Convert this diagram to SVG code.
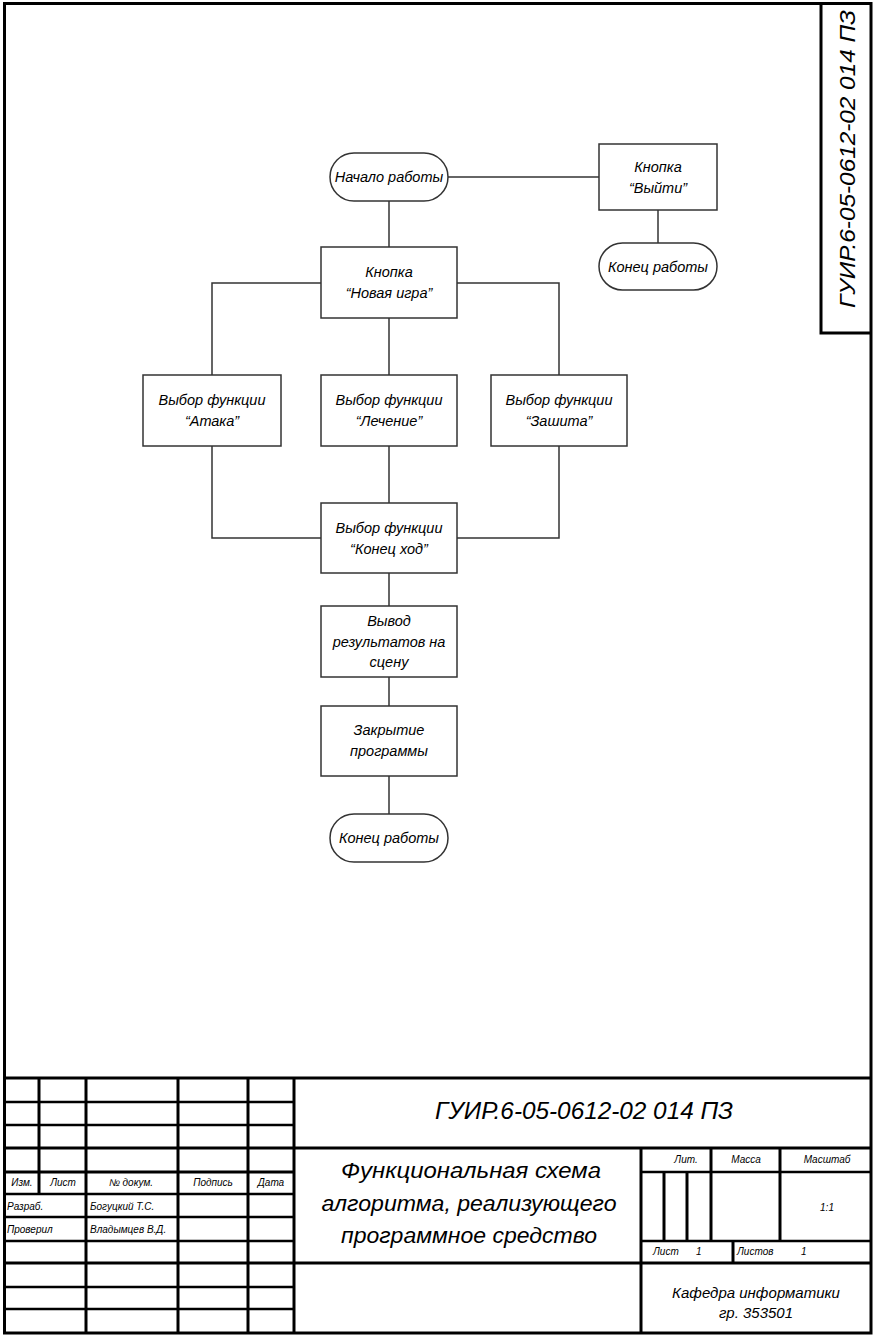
<svg xmlns="http://www.w3.org/2000/svg" width="875" height="1336" viewBox="0 0 875 1336">
  <style>
    text { font-family: "Liberation Sans", "DejaVu Sans", sans-serif; font-style: italic; fill: #000; }
    .node { fill: #fff; stroke: #333; stroke-width: 1.5; }
    .t { font-size: 14.5px; text-anchor: middle; }
    .edge { fill: none; stroke: #333; stroke-width: 1.5; }
    .frame { fill: none; stroke: #000; stroke-width: 3; }
    .grid { fill: none; stroke: #000; stroke-width: 2.5; }
    .s { font-size: 10px; }
    .c { text-anchor: middle; }
  </style>
  <rect x="0" y="0" width="875" height="1336" fill="#fff"/>

  <!-- sheet frame -->
  <g id="frame">
    <rect class="frame" x="4.5" y="3.5" width="866.5" height="1329.5"/>
    <polyline class="frame" points="821,3.5 821,333 871,333"/>
    <text transform="translate(855,159) rotate(-90)" font-size="22" text-anchor="middle" textLength="298" lengthAdjust="spacingAndGlyphs">ГУИР.6-05-0612-02 014 ПЗ</text>
  </g>

  <!-- connectors -->
  <g id="connectors">
    <line class="edge" x1="448" y1="177" x2="599" y2="177"/>
    <line class="edge" x1="658" y1="210" x2="658" y2="243"/>
    <line class="edge" x1="389" y1="201" x2="389" y2="247"/>
    <polyline class="edge" points="321,283 212,283 212,375"/>
    <polyline class="edge" points="457,283 559,283 559,375"/>
    <line class="edge" x1="389" y1="318" x2="389" y2="375"/>
    <polyline class="edge" points="212,446 212,538 321,538"/>
    <polyline class="edge" points="559,446 559,538 457,538"/>
    <line class="edge" x1="389" y1="446" x2="389" y2="503"/>
    <line class="edge" x1="389" y1="573" x2="389" y2="606"/>
    <line class="edge" x1="389" y1="677" x2="389" y2="706"/>
    <line class="edge" x1="389" y1="776" x2="389" y2="814"/>
  </g>

  <g id="start">
    <rect class="node" x="330" y="153" width="118" height="48" rx="24"/>
    <text class="t" x="389" y="182">Начало работы</text>
  </g>
  <g id="btn-exit">
    <rect class="node" x="599" y="144" width="118" height="66"/>
    <text class="t" x="658" y="172">Кнопка</text>
    <text class="t" x="658" y="193">“Выйти”</text>
  </g>
  <g id="end-exit">
    <rect class="node" x="599" y="243" width="118" height="47" rx="23.5"/>
    <text class="t" x="658" y="272">Конец работы</text>
  </g>
  <g id="btn-new">
    <rect class="node" x="321" y="247" width="136" height="71"/>
    <text class="t" x="389" y="277">Кнопка</text>
    <text class="t" x="389" y="298">“Новая игра”</text>
  </g>
  <g id="attack">
    <rect class="node" x="143" y="375" width="138" height="71"/>
    <text class="t" x="212" y="405">Выбор функции</text>
    <text class="t" x="212" y="426">“Атака”</text>
  </g>
  <g id="heal">
    <rect class="node" x="321" y="375" width="136" height="71"/>
    <text class="t" x="389" y="405">Выбор функции</text>
    <text class="t" x="389" y="426">“Лечение”</text>
  </g>
  <g id="defend">
    <rect class="node" x="491" y="375" width="136" height="71"/>
    <text class="t" x="559" y="405">Выбор функции</text>
    <text class="t" x="559" y="426">“Зашита”</text>
  </g>
  <g id="end-turn">
    <rect class="node" x="321" y="503" width="136" height="70"/>
    <text class="t" x="389" y="533">Выбор функции</text>
    <text class="t" x="389" y="554">“Конец ход”</text>
  </g>
  <g id="output">
    <rect class="node" x="321" y="606" width="136" height="71"/>
    <text class="t" x="389" y="626">Вывод</text>
    <text class="t" x="389" y="647">результатов на</text>
    <text class="t" x="389" y="667">сцену</text>
  </g>
  <g id="close">
    <rect class="node" x="321" y="706" width="136" height="70"/>
    <text class="t" x="389" y="735">Закрытие</text>
    <text class="t" x="389" y="756">программы</text>
  </g>
  <g id="end">
    <rect class="node" x="330" y="814" width="118" height="48" rx="24"/>
    <text class="t" x="389" y="843">Конец работы</text>
  </g>

  <!-- title block -->
  <g id="title-block">
    <line class="frame" x1="4.5" y1="1078" x2="871" y2="1078"/>
    <line class="frame" x1="294" y1="1148" x2="871" y2="1148"/>
    <line class="frame" x1="294" y1="1263" x2="871" y2="1263"/>
    <line class="frame" x1="294" y1="1078" x2="294" y2="1333"/>
    <line class="frame" x1="641" y1="1148" x2="641" y2="1333"/>
    <!-- left grid rows -->
    <line class="grid" x1="4.5" y1="1102" x2="294" y2="1102"/>
    <line class="grid" x1="4.5" y1="1125" x2="294" y2="1125"/>
    <line class="frame" x1="4.5" y1="1148" x2="294" y2="1148"/>
    <line class="frame" x1="4.5" y1="1172" x2="294" y2="1172"/>
    <line class="grid" x1="4.5" y1="1194" x2="294" y2="1194"/>
    <line class="grid" x1="4.5" y1="1217" x2="294" y2="1217"/>
    <line class="grid" x1="4.5" y1="1241" x2="294" y2="1241"/>
    <line class="frame" x1="4.5" y1="1263" x2="294" y2="1263"/>
    <line class="grid" x1="4.5" y1="1287" x2="294" y2="1287"/>
    <line class="grid" x1="4.5" y1="1309" x2="294" y2="1309"/>
    <!-- left grid columns -->
    <line class="frame" x1="39" y1="1078" x2="39" y2="1194"/>
    <line class="frame" x1="86" y1="1078" x2="86" y2="1333"/>
    <line class="frame" x1="178" y1="1078" x2="178" y2="1333"/>
    <line class="frame" x1="248" y1="1078" x2="248" y2="1333"/>
    <!-- right block -->
    <line class="grid" x1="641" y1="1172" x2="871" y2="1172"/>
    <line class="grid" x1="641" y1="1241" x2="871" y2="1241"/>
    <line class="frame" x1="664" y1="1172" x2="664" y2="1241"/>
    <line class="frame" x1="687" y1="1172" x2="687" y2="1241"/>
    <line class="frame" x1="711" y1="1148" x2="711" y2="1241"/>
    <line class="frame" x1="780" y1="1148" x2="780" y2="1241"/>
    <line class="frame" x1="733" y1="1241" x2="733" y2="1263"/>

    <text x="584" y="1119" font-size="24" text-anchor="middle" textLength="298" lengthAdjust="spacingAndGlyphs">ГУИР.6-05-0612-02 014 ПЗ</text>
    <text x="471" y="1178" font-size="22" text-anchor="middle" textLength="260" lengthAdjust="spacingAndGlyphs">Функциональная схема</text>
    <text x="469" y="1211" font-size="22" text-anchor="middle" textLength="295" lengthAdjust="spacingAndGlyphs">алгоритма, реализующего</text>
    <text x="469" y="1243" font-size="22" text-anchor="middle" textLength="256" lengthAdjust="spacingAndGlyphs">программное средство</text>

    <text class="s c" x="22" y="1186">Изм.</text>
    <text class="s c" x="63" y="1186">Лист</text>
    <text class="s c" x="131" y="1186">№ докум.</text>
    <text class="s c" x="213" y="1186">Подпись</text>
    <text class="s c" x="271" y="1186">Дата</text>
    <text class="s" x="7" y="1210">Разраб.</text>
    <text class="s" x="90" y="1210">Богуцкий Т.С.</text>
    <text class="s" x="7" y="1233">Проверил</text>
    <text class="s" x="90" y="1233">Владымцев В.Д.</text>

    <text class="s c" x="686" y="1163">Лит.</text>
    <text class="s c" x="746" y="1163">Масса</text>
    <text class="s c" x="827" y="1163">Масштаб</text>
    <text class="s c" x="827" y="1211">1:1</text>
    <text class="s" x="653" y="1255">Лист</text>
    <text class="s" x="696" y="1255">1</text>
    <text class="s" x="737" y="1255">Листов</text>
    <text class="s" x="801" y="1255">1</text>

    <text x="756" y="1298" font-size="15" text-anchor="middle">Кафедра информатики</text>
    <text x="756" y="1318" font-size="15" text-anchor="middle">гр. 353501</text>
  </g>
</svg>
